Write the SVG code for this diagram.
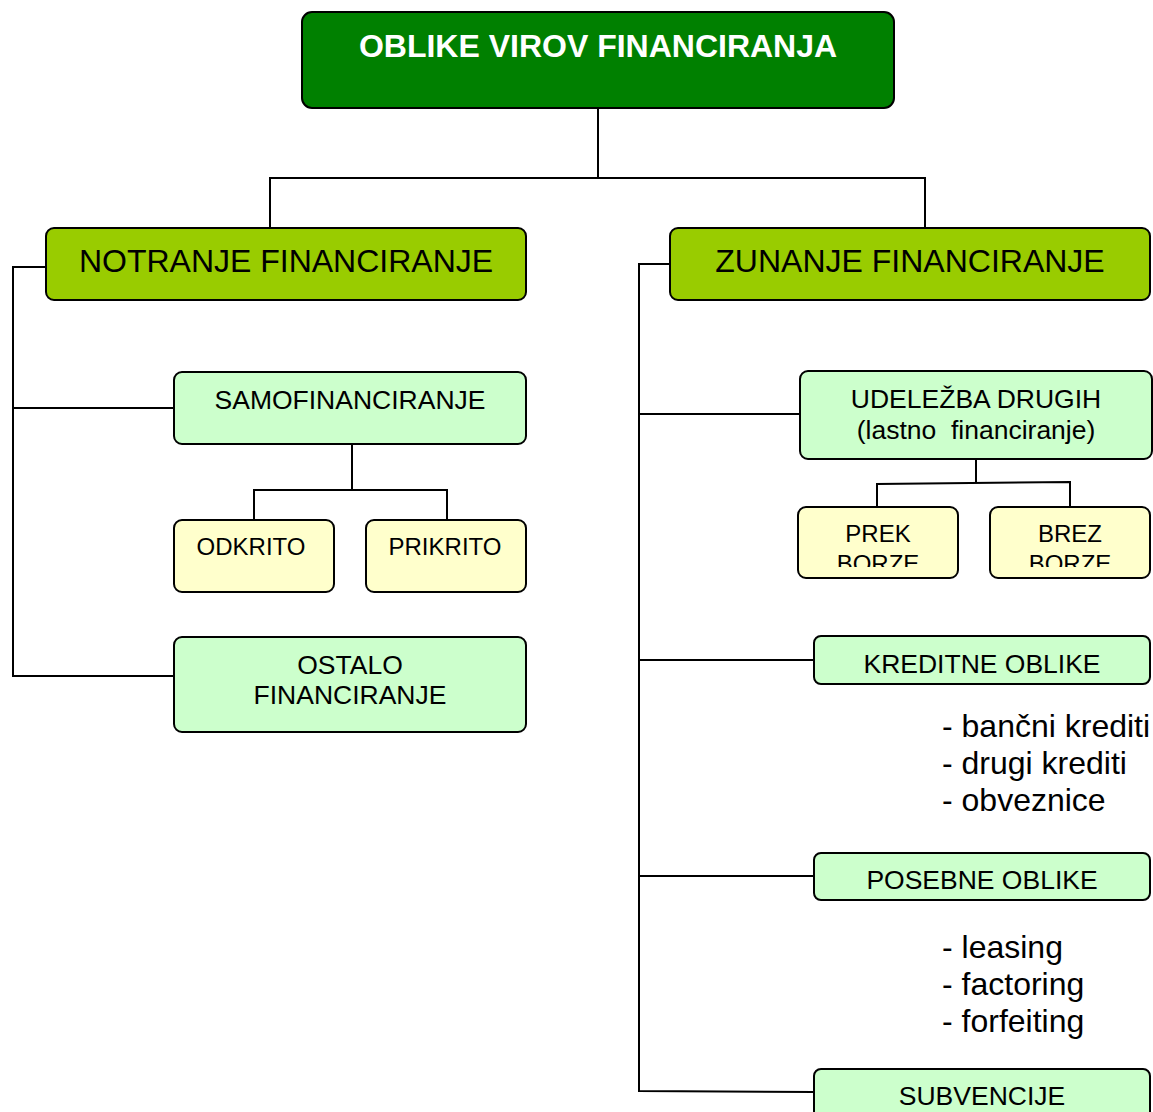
<svg xmlns="http://www.w3.org/2000/svg" width="1153" height="1112" viewBox="0 0 1153 1112">
<defs>
<style>
text{font-family:"Liberation Sans",Arial,sans-serif;fill:#000;text-anchor:middle}
.box{stroke:#000;stroke-width:2}
.top{fill:#008000}
.lvl1{fill:#99CC00}
.lvl2{fill:#CCFFCC}
.lvl3{fill:#FFFFCC}
.conn{fill:none;stroke:#000;stroke-width:2}
.t1{font-size:32px}
.t2{font-size:26.5px}
.t3{font-size:24px}
.list{font-size:32px;text-anchor:start}
</style>
<clipPath id="clipPrek"><rect x="798" y="507" width="160" height="60"/></clipPath>
<clipPath id="clipBrez"><rect x="990" y="507" width="160" height="60"/></clipPath>
</defs>
<rect width="1153" height="1112" fill="#fff"/>
<g id="connectors">
<path class="conn" d="M598,108 V178 M270,228 V178 H925 V228"/>
<path class="conn" d="M46,267 H13 V676 H174 M13,408 H174"/>
<path class="conn" d="M352,444 V490 M254,522 V490 H447 V520"/>
<path class="conn" d="M670,264 H639 V1091 L814,1092 M639,414 H800 M639,660 H814 M639,876 H814"/>
<path class="conn" d="M976,459 V483 M877,507 V484 L1070,482 V507"/>
</g>
<g id="n-top">
<rect class="box top" x="302" y="12" width="592" height="96" rx="10"/>
<text x="598" y="57" style="font-size:32px;font-weight:bold;fill:#fff">OBLIKE VIROV FINANCIRANJA</text>
</g>
<g id="n-notranje">
<rect class="box lvl1" x="46" y="228" width="480" height="72" rx="8"/>
<text class="t1" x="286" y="272">NOTRANJE FINANCIRANJE</text>
</g>
<g id="n-zunanje">
<rect class="box lvl1" x="670" y="228" width="480" height="72" rx="8"/>
<text class="t1" x="910" y="272">ZUNANJE FINANCIRANJE</text>
</g>
<g id="n-samo">
<rect class="box lvl2" x="174" y="372" width="352" height="72" rx="8"/>
<text class="t2" x="350" y="409">SAMOFINANCIRANJE</text>
</g>
<g id="n-odkrito">
<rect class="box lvl3" x="174" y="520" width="160" height="72" rx="8"/>
<text class="t3" x="251" y="555">ODKRITO</text>
</g>
<g id="n-prikrito">
<rect class="box lvl3" x="366" y="520" width="160" height="72" rx="8"/>
<text class="t3" x="445" y="555">PRIKRITO</text>
</g>
<g id="n-ostalo">
<rect class="box lvl2" x="174" y="637" width="352" height="95" rx="8"/>
<text class="t2" x="350" y="674">OSTALO</text>
<text class="t2" x="350" y="704">FINANCIRANJE</text>
</g>
<g id="n-udelezba">
<rect class="box lvl2" x="800" y="371" width="352" height="88" rx="8"/>
<text class="t2" x="976" y="408">UDELEŽBA DRUGIH</text>
<text class="t2" x="976" y="439" xml:space="preserve">(lastno  financiranje)</text>
</g>
<g id="n-prek">
<rect class="box lvl3" x="798" y="507" width="160" height="71" rx="8"/>
<g clip-path="url(#clipPrek)">
<text class="t3" x="878" y="542">PREK</text>
<text class="t3" x="878" y="572">BORZE</text>
</g>
</g>
<g id="n-brez">
<rect class="box lvl3" x="990" y="507" width="160" height="71" rx="8"/>
<g clip-path="url(#clipBrez)">
<text class="t3" x="1070" y="542">BREZ</text>
<text class="t3" x="1070" y="572">BORZE</text>
</g>
</g>
<g id="n-kreditne">
<rect class="box lvl2" x="814" y="636" width="336" height="48" rx="7"/>
<text class="t2" x="982" y="673">KREDITNE OBLIKE</text>
</g>
<g id="list-kreditne">
<text class="list" x="942" y="737">- bančni krediti</text>
<text class="list" x="942" y="774">- drugi krediti</text>
<text class="list" x="942" y="811">- obveznice</text>
</g>
<g id="n-posebne">
<rect class="box lvl2" x="814" y="853" width="336" height="47" rx="7"/>
<text class="t2" x="982" y="889">POSEBNE OBLIKE</text>
</g>
<g id="list-posebne">
<text class="list" x="942" y="958">- leasing</text>
<text class="list" x="942" y="995">- factoring</text>
<text class="list" x="942" y="1032">- forfeiting</text>
</g>
<g id="n-subvencije">
<rect class="box lvl2" x="814" y="1069" width="336" height="60" rx="7"/>
<text class="t2" x="982" y="1105">SUBVENCIJE</text>
</g>
</svg>
